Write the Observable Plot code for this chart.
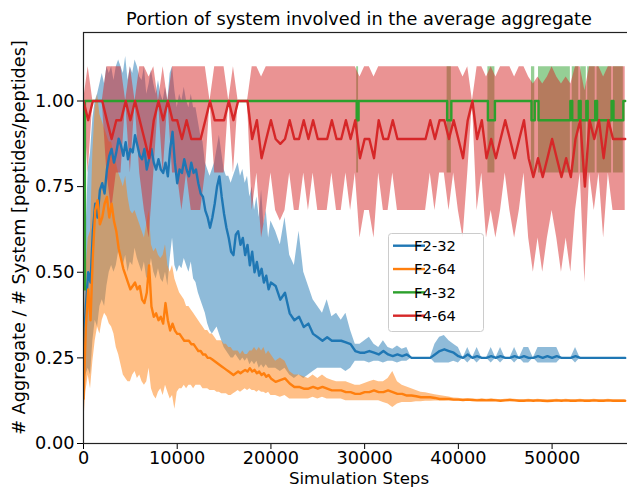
<!DOCTYPE html>
<html>
<head>
<meta charset="utf-8">
<script src="https://cdn.jsdelivr.net/npm/d3@7"></script>
<script src="https://cdn.jsdelivr.net/npm/@observablehq/plot@0.6"></script>
<style>
  html, body { margin: 0; padding: 0; background: #fff; overflow: hidden; }
  svg { display: block; }
</style>
</head>
<body>
<div id="chart"></div>
<script>
// Simulation steps sampled for the F2 runs (denser during the noisy start)
const f2Steps = [
  0, 250, 500, 750, 1000, 1250, 1500, 1750, 2000, 2250,
  2500, 2750, 3000, 3250, 3500, 3750, 4000, 4250, 4500, 4750,
  5000, 5250, 5500, 5750, 6000, 6250, 6500, 6750, 7000, 7250,
  7500, 7750, 8000, 8250, 8500, 8750, 9000, 9250, 9500, 9750,
  10000, 10250, 10500, 10750, 11000, 11250, 11500, 11750, 12000, 12250,
  12500, 12750, 13000, 13250, 13500, 13750, 14000, 14250, 14500, 14750,
  15000, 15250, 15500, 15750, 16000, 16250, 16500, 16750, 17000, 17250,
  17500, 17750, 18000, 18250, 18500, 18750, 19000, 19250, 19500, 19750,
  20000, 20500, 21000, 21500, 22000, 22500, 23000, 23500, 24000, 24500,
  25000, 25500, 26000, 26500, 27000, 27500, 28000, 28500, 29000, 29500,
  30000, 30500, 31000, 31500, 32000, 32500, 33000, 33500, 34000, 34500,
  35000, 35500, 36000, 36500, 37000, 37500, 38000, 38500, 39000, 39500,
  40000, 40500, 41000, 41500, 42000, 42500, 43000, 43500, 44000, 44500,
  45000, 45500, 46000, 46500, 47000, 47500, 48000, 48500, 49000, 49500,
  50000, 50500, 51000, 51500, 52000, 52500, 53000, 53500, 54000, 54500,
  55000, 55500, 56000, 56500, 57000, 57800
];

// F2-32: mean and mean ± std
const f232Mean = [
  0.28, 0.40, 0.50, 0.47, 0.62, 0.70, 0.66, 0.74, 0.76, 0.73,
  0.80, 0.84, 0.86, 0.82, 0.85, 0.89, 0.87, 0.84, 0.88, 0.83,
  0.86, 0.85, 0.90, 0.87, 0.84, 0.83, 0.86, 0.80, 0.83, 0.86,
  0.82, 0.80, 0.83, 0.80, 0.79, 0.82, 0.78, 0.86, 0.91, 0.82,
  0.76, 0.80, 0.79, 0.83, 0.80, 0.78, 0.82, 0.79, 0.80, 0.76,
  0.73, 0.72, 0.68, 0.66, 0.63, 0.66, 0.70, 0.75, 0.78, 0.72,
  0.67, 0.63, 0.60, 0.56, 0.55, 0.61, 0.62, 0.58, 0.60, 0.55,
  0.58, 0.52, 0.56, 0.50, 0.53, 0.49, 0.51, 0.47, 0.49, 0.45,
  0.47, 0.46, 0.42, 0.44, 0.38, 0.36, 0.37, 0.34, 0.35, 0.32,
  0.31, 0.30, 0.31, 0.30, 0.30, 0.30, 0.295, 0.29, 0.27, 0.265,
  0.265, 0.27, 0.265, 0.26, 0.27, 0.26, 0.255, 0.26, 0.255, 0.26,
  0.25, 0.25, 0.25, 0.25, 0.25, 0.26, 0.27, 0.275, 0.27, 0.265,
  0.255, 0.25, 0.26, 0.25, 0.255, 0.25, 0.25, 0.255, 0.25, 0.255,
  0.25, 0.25, 0.255, 0.25, 0.255, 0.25, 0.25, 0.255, 0.25, 0.255,
  0.25, 0.255, 0.25, 0.25, 0.25, 0.255, 0.25, 0.25, 0.25, 0.25,
  0.25, 0.25, 0.25, 0.25, 0.25, 0.25
];
const f232Hi = [
  0.40, 0.60, 0.80, 0.85, 0.95, 1.00, 1.02, 1.05, 1.08, 1.05,
  1.10, 1.08, 1.10, 1.06, 1.10, 1.12, 1.10, 1.08, 1.13, 1.06,
  1.10, 1.08, 1.12, 1.10, 1.07, 1.06, 1.10, 1.02, 1.05, 1.09,
  1.05, 1.02, 1.06, 1.02, 1.00, 1.04, 1.00, 1.08, 1.10, 1.03,
  0.98, 1.02, 1.00, 1.04, 1.00, 0.98, 1.02, 0.98, 0.98, 0.94,
  0.90, 0.88, 0.82, 0.80, 0.78, 0.80, 0.82, 0.86, 0.90, 0.85,
  0.80, 0.78, 0.78, 0.76, 0.78, 0.80, 0.82, 0.78, 0.80, 0.76,
  0.78, 0.72, 0.75, 0.68, 0.72, 0.66, 0.74, 0.64, 0.68, 0.60,
  0.65, 0.62, 0.58, 0.66, 0.55, 0.52, 0.62, 0.50, 0.46, 0.42,
  0.40, 0.38, 0.42, 0.37, 0.38, 0.36, 0.38, 0.33, 0.29, 0.29,
  0.30, 0.31, 0.29, 0.28, 0.30, 0.28, 0.275, 0.285, 0.275, 0.28,
  0.25, 0.25, 0.25, 0.25, 0.25, 0.29, 0.31, 0.315, 0.30, 0.29,
  0.28, 0.25, 0.28, 0.25, 0.28, 0.25, 0.25, 0.28, 0.25, 0.28,
  0.25, 0.25, 0.28, 0.25, 0.28, 0.28, 0.25, 0.28, 0.28, 0.28,
  0.28, 0.28, 0.25, 0.25, 0.25, 0.28, 0.25, 0.25, 0.25, 0.25,
  0.25, 0.25, 0.25, 0.25, 0.25, 0.25
];
const f232Lo = [
  0.15, 0.20, 0.22, 0.20, 0.30, 0.36, 0.34, 0.40, 0.42, 0.40,
  0.46, 0.50, 0.52, 0.50, 0.52, 0.56, 0.54, 0.52, 0.55, 0.50,
  0.53, 0.52, 0.57, 0.54, 0.52, 0.50, 0.53, 0.48, 0.50, 0.54,
  0.50, 0.48, 0.51, 0.48, 0.47, 0.50, 0.46, 0.54, 0.60, 0.52,
  0.50, 0.52, 0.51, 0.54, 0.52, 0.50, 0.53, 0.48, 0.47, 0.44,
  0.42, 0.40, 0.38, 0.35, 0.33, 0.32, 0.33, 0.34, 0.32, 0.30,
  0.28, 0.27, 0.26, 0.25, 0.25, 0.26, 0.25, 0.24, 0.25, 0.24,
  0.25, 0.23, 0.24, 0.23, 0.24, 0.22, 0.23, 0.22, 0.23, 0.22,
  0.22, 0.22, 0.21, 0.22, 0.20, 0.19, 0.20, 0.19, 0.20, 0.21,
  0.22, 0.22, 0.22, 0.22, 0.22, 0.22, 0.21, 0.22, 0.24, 0.24,
  0.24, 0.235, 0.24, 0.24, 0.235, 0.24, 0.24, 0.235, 0.24, 0.24,
  0.25, 0.25, 0.25, 0.25, 0.25, 0.235, 0.235, 0.235, 0.235, 0.24,
  0.235, 0.25, 0.235, 0.25, 0.235, 0.25, 0.25, 0.235, 0.25, 0.235,
  0.25, 0.25, 0.235, 0.25, 0.235, 0.235, 0.25, 0.235, 0.235, 0.235,
  0.235, 0.235, 0.25, 0.25, 0.25, 0.235, 0.25, 0.25, 0.25, 0.25,
  0.25, 0.25, 0.25, 0.25, 0.25, 0.25
];

// F2-64: mean and mean ± std
const f264Mean = [
  0.13, 0.34, 0.45, 0.36, 0.55, 0.68, 0.71, 0.64, 0.66, 0.70,
  0.72, 0.66, 0.70, 0.65, 0.62, 0.57, 0.54, 0.51, 0.49, 0.47,
  0.45, 0.46, 0.47, 0.45, 0.46, 0.42, 0.41, 0.44, 0.52, 0.40,
  0.37, 0.38, 0.36, 0.37, 0.35, 0.41, 0.36, 0.33, 0.35, 0.33,
  0.32, 0.32, 0.31, 0.30, 0.30, 0.30, 0.29, 0.29, 0.28, 0.27,
  0.27, 0.26, 0.26, 0.25, 0.25, 0.245, 0.24, 0.235, 0.23, 0.225,
  0.22, 0.215, 0.21, 0.205, 0.20, 0.205, 0.21, 0.205, 0.21, 0.215,
  0.21, 0.22, 0.21, 0.215, 0.205, 0.21, 0.20, 0.205, 0.195, 0.20,
  0.19, 0.18, 0.185, 0.19, 0.175, 0.165, 0.165, 0.16, 0.16, 0.165,
  0.16, 0.165, 0.16, 0.155, 0.155, 0.155, 0.15, 0.15, 0.145, 0.145,
  0.15, 0.15, 0.155, 0.15, 0.15, 0.155, 0.15, 0.145, 0.145, 0.14,
  0.14, 0.138, 0.135, 0.135, 0.135, 0.133, 0.13, 0.13, 0.13, 0.128,
  0.128, 0.127, 0.128, 0.127, 0.126, 0.127, 0.126, 0.127, 0.126, 0.125,
  0.126, 0.127, 0.126, 0.125, 0.125, 0.126, 0.125, 0.126, 0.125, 0.124,
  0.125, 0.126, 0.125, 0.126, 0.125, 0.125, 0.126, 0.125, 0.125, 0.126,
  0.125, 0.125, 0.126, 0.125, 0.125, 0.125
];
const f264Hi = [
  0.30, 0.50, 0.60, 0.62, 0.85, 0.98, 1.02, 0.96, 0.94, 0.92,
  0.90, 0.88, 0.88, 0.84, 0.82, 0.79, 0.77, 0.75, 0.78, 0.72,
  0.68, 0.67, 0.68, 0.66, 0.64, 0.62, 0.60, 0.64, 0.68, 0.58,
  0.56, 0.57, 0.55, 0.54, 0.55, 0.58, 0.52, 0.50, 0.52, 0.48,
  0.46, 0.44, 0.43, 0.42, 0.40, 0.40, 0.39, 0.38, 0.37, 0.36,
  0.35, 0.34, 0.33, 0.33, 0.32, 0.32, 0.31, 0.30, 0.30, 0.30,
  0.29, 0.29, 0.28, 0.28, 0.27, 0.27, 0.27, 0.26, 0.27, 0.26,
  0.26, 0.27, 0.27, 0.28, 0.27, 0.28, 0.27, 0.28, 0.26, 0.27,
  0.26, 0.24, 0.25, 0.24, 0.21, 0.20, 0.20, 0.195, 0.19, 0.20,
  0.19, 0.20, 0.19, 0.185, 0.18, 0.18, 0.18, 0.175, 0.17, 0.17,
  0.175, 0.18, 0.185, 0.18, 0.18, 0.19, 0.21, 0.18, 0.17, 0.165,
  0.16, 0.155, 0.15, 0.148, 0.145, 0.142, 0.14, 0.138, 0.136, 0.133,
  0.132, 0.13, 0.131, 0.13, 0.129, 0.13, 0.129, 0.13, 0.129, 0.128,
  0.129, 0.13, 0.129, 0.128, 0.128, 0.129, 0.128, 0.129, 0.128, 0.127,
  0.128, 0.129, 0.128, 0.129, 0.128, 0.128, 0.129, 0.128, 0.128, 0.129,
  0.128, 0.128, 0.129, 0.128, 0.128, 0.128
];
const f264Lo = [
  0.05, 0.15, 0.20, 0.16, 0.24, 0.30, 0.34, 0.32, 0.36, 0.38,
  0.37, 0.35, 0.34, 0.32, 0.28, 0.26, 0.23, 0.20, 0.19, 0.18,
  0.18, 0.20, 0.21, 0.19, 0.20, 0.18, 0.17, 0.18, 0.22, 0.16,
  0.14, 0.13, 0.15, 0.16, 0.14, 0.17, 0.15, 0.13, 0.14, 0.10,
  0.15, 0.16, 0.16, 0.17, 0.16, 0.17, 0.17, 0.16, 0.17, 0.17,
  0.17, 0.16, 0.16, 0.16, 0.155, 0.155, 0.155, 0.15, 0.15, 0.145,
  0.145, 0.145, 0.14, 0.14, 0.145, 0.15, 0.155, 0.15, 0.155, 0.16,
  0.155, 0.16, 0.155, 0.155, 0.15, 0.155, 0.15, 0.15, 0.145, 0.15,
  0.14, 0.14, 0.135, 0.14, 0.13, 0.13, 0.13, 0.13, 0.13, 0.135,
  0.13, 0.135, 0.13, 0.13, 0.13, 0.13, 0.125, 0.125, 0.125, 0.125,
  0.125, 0.125, 0.125, 0.125, 0.12, 0.115, 0.105, 0.115, 0.12, 0.12,
  0.12, 0.122, 0.122, 0.123, 0.123, 0.124, 0.124, 0.124, 0.125, 0.124,
  0.124, 0.124, 0.125, 0.124, 0.123, 0.124, 0.123, 0.124, 0.123, 0.122,
  0.123, 0.124, 0.123, 0.122, 0.122, 0.123, 0.122, 0.123, 0.122, 0.121,
  0.122, 0.123, 0.122, 0.123, 0.122, 0.122, 0.123, 0.122, 0.122, 0.123,
  0.122, 0.122, 0.123, 0.122, 0.122, 0.122
];

// F4-32: held values, each one lasting until the next listed step
const f432Steps = [0, 150, 29150, 29350, 38800, 39250, 43150, 43900, 47800, 48150,
  48550, 51950, 52150, 52850, 53050, 53650, 53800, 54600, 54800, 56350,
  56550, 57600, 57800];
const f432Mean = [0.45, 1.0, 0.944, 1.0, 0.944, 1.0, 0.944, 1.0, 0.944, 1.0,
  0.944, 1.0, 0.944, 1.0, 0.944, 1.0, 0.944, 1.0, 0.944, 1.0,
  0.944, 1.0, 1.0];
const f432Hi = [0.45, 1.0, 1.1, 1.0, 1.1, 1.0, 1.1, 1.0, 1.1, 1.0,
  1.1, 1.0, 1.1, 1.0, 1.1, 1.0, 1.1, 1.0, 1.1, 1.0,
  1.1, 1.0, 1.0];
const f432Lo = [0.45, 1.0, 0.79, 1.0, 0.79, 1.0, 0.79, 1.0, 0.79, 1.0,
  0.79, 1.0, 0.79, 1.0, 0.79, 1.0, 0.79, 1.0, 0.79, 1.0,
  0.79, 1.0, 1.0];

// F4-64: values every 500 steps
const f464Steps = [
  0, 500, 1000, 1500, 2000, 2500, 3000, 3500, 4000, 4500,
  5000, 5500, 6000, 6500, 7000, 7500, 8000, 8500, 9000, 9500,
  10000, 10500, 11000, 11500, 12000, 12500, 13000, 13500, 14000, 14500,
  15000, 15500, 16000, 16500, 17000, 17500, 18000, 18500, 19000, 19500,
  20000, 20500, 21000, 21500, 22000, 22500, 23000, 23500, 24000, 24500,
  25000, 25500, 26000, 26500, 27000, 27500, 28000, 28500, 29000, 29500,
  30000, 30500, 31000, 31500, 32000, 32500, 33000, 33500, 34000, 34500,
  35000, 35500, 36000, 36500, 37000, 37500, 38000, 38500, 39000, 39500,
  40000, 40500, 41000, 41500, 42000, 42500, 43000, 43500, 44000, 44500,
  45000, 45500, 46000, 46500, 47000, 47500, 48000, 48500, 49000, 49500,
  50000, 50500, 51000, 51500, 52000, 52500, 53000, 53500, 54000, 54500,
  55000, 55500, 56000, 56500, 57000, 57800
];
const f464Mean = [
  1.0, 0.944, 1.0, 1.0, 1.0, 0.944, 0.889, 0.944, 0.944, 1.0,
  0.944, 1.0, 0.944, 0.889, 0.833, 0.944, 1.0, 0.944, 1.0, 0.944,
  0.944, 0.889, 0.944, 0.889, 0.889, 0.889, 0.944, 1.0, 0.944, 0.944,
  0.944, 1.0, 0.944, 1.0, 1.0, 1.0, 0.889, 0.944, 0.833, 0.889,
  0.944, 0.889, 0.875, 0.889, 0.944, 0.889, 0.889, 0.944, 0.889, 0.944,
  0.889, 0.889, 0.889, 0.944, 0.889, 0.889, 0.944, 0.889, 0.944, 0.833,
  0.889, 0.889, 0.833, 0.944, 0.889, 0.889, 0.944, 0.889, 0.889, 0.889,
  0.889, 0.889, 0.889, 0.889, 0.944, 0.889, 0.944, 0.944, 0.889, 0.944,
  0.889, 0.833, 0.944, 1.0, 0.889, 0.944, 0.833, 0.889, 0.833, 0.889,
  0.944, 0.889, 0.833, 0.889, 0.944, 0.833, 0.778, 0.833, 0.778, 0.833,
  0.889, 0.833, 0.778, 0.833, 0.778, 0.889, 0.944, 0.75, 0.944, 0.889,
  0.944, 0.833, 0.944, 0.889, 0.889, 0.889
];
const f464Hi = [
  1.0, 1.1, 1.0, 1.0, 1.0, 1.1, 1.1, 1.1, 1.1, 1.0,
  1.1, 1.0, 1.1, 1.1, 1.07, 1.1, 1.0, 1.1, 1.0, 1.1,
  1.1, 1.1, 1.1, 1.1, 1.1, 1.1, 1.1, 1.0, 1.1, 1.1,
  1.1, 1.0, 1.1, 1.0, 1.0, 1.0, 1.1, 1.1, 1.07, 1.1,
  1.1, 1.1, 1.1, 1.1, 1.1, 1.1, 1.1, 1.1, 1.1, 1.1,
  1.1, 1.1, 1.1, 1.1, 1.1, 1.1, 1.1, 1.1, 1.1, 1.07,
  1.1, 1.1, 1.07, 1.1, 1.1, 1.1, 1.1, 1.1, 1.1, 1.1,
  1.1, 1.1, 1.1, 1.1, 1.1, 1.1, 1.1, 1.1, 1.1, 1.1,
  1.1, 1.07, 1.1, 1.0, 1.1, 1.1, 1.07, 1.1, 1.07, 1.1,
  1.1, 1.1, 1.07, 1.1, 1.1, 1.07, 1.05, 1.07, 1.05, 1.07,
  1.1, 1.07, 1.05, 1.07, 1.05, 1.1, 1.1, 1.03, 1.1, 1.1,
  1.1, 1.07, 1.1, 1.1, 1.1, 1.1
];
const f464Lo = [
  1.0, 0.79, 1.0, 1.0, 1.0, 0.79, 0.68, 0.79, 0.79, 1.0,
  0.79, 1.0, 0.79, 0.68, 0.6, 0.79, 1.0, 0.79, 1.0, 0.79,
  0.79, 0.68, 0.79, 0.68, 0.68, 0.68, 0.79, 1.0, 0.79, 0.79,
  0.79, 1.0, 0.79, 1.0, 1.0, 1.0, 0.68, 0.79, 0.6, 0.68,
  0.79, 0.68, 0.65, 0.68, 0.79, 0.68, 0.68, 0.79, 0.68, 0.79,
  0.68, 0.68, 0.68, 0.79, 0.68, 0.68, 0.79, 0.68, 0.79, 0.6,
  0.68, 0.68, 0.6, 0.79, 0.68, 0.68, 0.79, 0.68, 0.68, 0.68,
  0.68, 0.68, 0.68, 0.68, 0.79, 0.68, 0.79, 0.79, 0.68, 0.79,
  0.68, 0.6, 0.79, 1.0, 0.68, 0.79, 0.6, 0.68, 0.6, 0.68,
  0.79, 0.68, 0.6, 0.68, 0.79, 0.6, 0.5, 0.6, 0.5, 0.6,
  0.68, 0.6, 0.5, 0.6, 0.5, 0.68, 0.79, 0.47, 0.79, 0.68,
  0.79, 0.6, 0.79, 0.68, 0.68, 0.68
];

// Series names, colours and axis ticks
const seriesNames = ["F2-32", "F2-64", "F4-32", "F4-64"];
const seriesColors = ["#1f77b4", "#ff7f0e", "#2ca02c", "#d62728"];
const xTicks = [0, 10000, 20000, 30000, 40000, 50000];
const yTicks = [0, 0.25, 0.5, 0.75, 1.0];

// Tables built from the arrays above
const f2Rows = f2Steps.map((step, i) => ({
  step,
  m32: f232Mean[i], lo32: f232Lo[i], hi32: f232Hi[i],
  m64: f264Mean[i], lo64: f264Lo[i], hi64: f264Hi[i]
}));
const f432Rows = f432Steps.map((step, i) => ({step, m: f432Mean[i], lo: f432Lo[i], hi: f432Hi[i]}));
const f464Rows = f464Steps.map((step, i) => ({step, m: f464Mean[i], lo: f464Lo[i], hi: f464Hi[i]}));

const lw = 2.4;
const chart = Plot.plot({
  width: 627,
  height: 488,
  marginLeft: 83,
  marginRight: -8,
  marginTop: 32,
  marginBottom: 45,
  style: {fontFamily: "DejaVu Sans", fontSize: "17.7px", color: "black", background: "white", overflow: "hidden"},
  x: {domain: [0, 58900]},
  y: {domain: [0, 1.2]},
  marks: [
    // std bands
    Plot.areaY(f2Rows, {x: "step", y1: "lo32", y2: "hi32", fill: seriesColors[0], fillOpacity: 0.5, clip: true}),
    Plot.areaY(f2Rows, {x: "step", y1: "lo64", y2: "hi64", fill: seriesColors[1], fillOpacity: 0.5, clip: true}),
    Plot.areaY(f432Rows, {x: "step", y1: "lo", y2: "hi", fill: seriesColors[2], fillOpacity: 0.5, curve: "step-after", clip: true}),
    Plot.areaY(f464Rows, {x: "step", y1: "lo", y2: "hi", fill: seriesColors[3], fillOpacity: 0.5, clip: true}),
    // mean lines
    Plot.lineY(f2Rows, {x: "step", y: "m32", stroke: seriesColors[0], strokeWidth: lw, clip: true}),
    Plot.lineY(f2Rows, {x: "step", y: "m64", stroke: seriesColors[1], strokeWidth: lw, clip: true}),
    Plot.lineY(f432Rows, {x: "step", y: "m", stroke: seriesColors[2], strokeWidth: lw, curve: "step-after", clip: true}),
    Plot.lineY(f464Rows, {x: "step", y: "m", stroke: seriesColors[3], strokeWidth: lw, clip: true}),
    // axes and frame
    Plot.axisX({ticks: xTicks, tickFormat: d3.format("d"), tickSize: 6, tickPadding: 2, label: null}),
    Plot.axisY({ticks: yTicks, tickFormat: d3.format(".2f"), tickSize: 6, tickPadding: 3, label: null}),
    Plot.frame({stroke: "#222", strokeWidth: 1.2})
  ]
});

const svg = d3.select(chart);

// title and axis labels
svg.append("text")
  .attr("x", 359).attr("y", 25)
  .attr("text-anchor", "middle")
  .attr("font-size", "17.7px").attr("fill", "black")
  .text("Portion of system involved in the average aggregate");
svg.append("text")
  .attr("x", 359).attr("y", 484)
  .attr("text-anchor", "middle")
  .attr("font-size", "16.6px").attr("fill", "black")
  .text("Simulation Steps");
svg.append("text")
  .attr("transform", "translate(25,237.5) rotate(-90)")
  .attr("text-anchor", "middle")
  .attr("font-size", "17.7px").attr("fill", "black")
  .text("# Aggregate / # System [peptides/peptides]");

// legend
const lg = svg.append("g");
lg.append("rect")
  .attr("x", 388.5).attr("y", 233.5).attr("width", 95).attr("height", 98)
  .attr("rx", 3).attr("fill", "white").attr("fill-opacity", 0.8)
  .attr("stroke", "#cccccc").attr("stroke-width", 1);
seriesNames.forEach((name, i) => {
  const cy = 245.7 + i * 23.33;
  lg.append("line")
    .attr("x1", 393).attr("x2", 425).attr("y1", cy).attr("y2", cy)
    .attr("stroke", seriesColors[i]).attr("stroke-width", lw);
  lg.append("text")
    .attr("x", 435).attr("y", cy + 5.2)
    .attr("font-size", "14.7px").attr("fill", "black")
    .text(name);
});

document.getElementById("chart").appendChild(chart);
</script>
</body>
</html>
